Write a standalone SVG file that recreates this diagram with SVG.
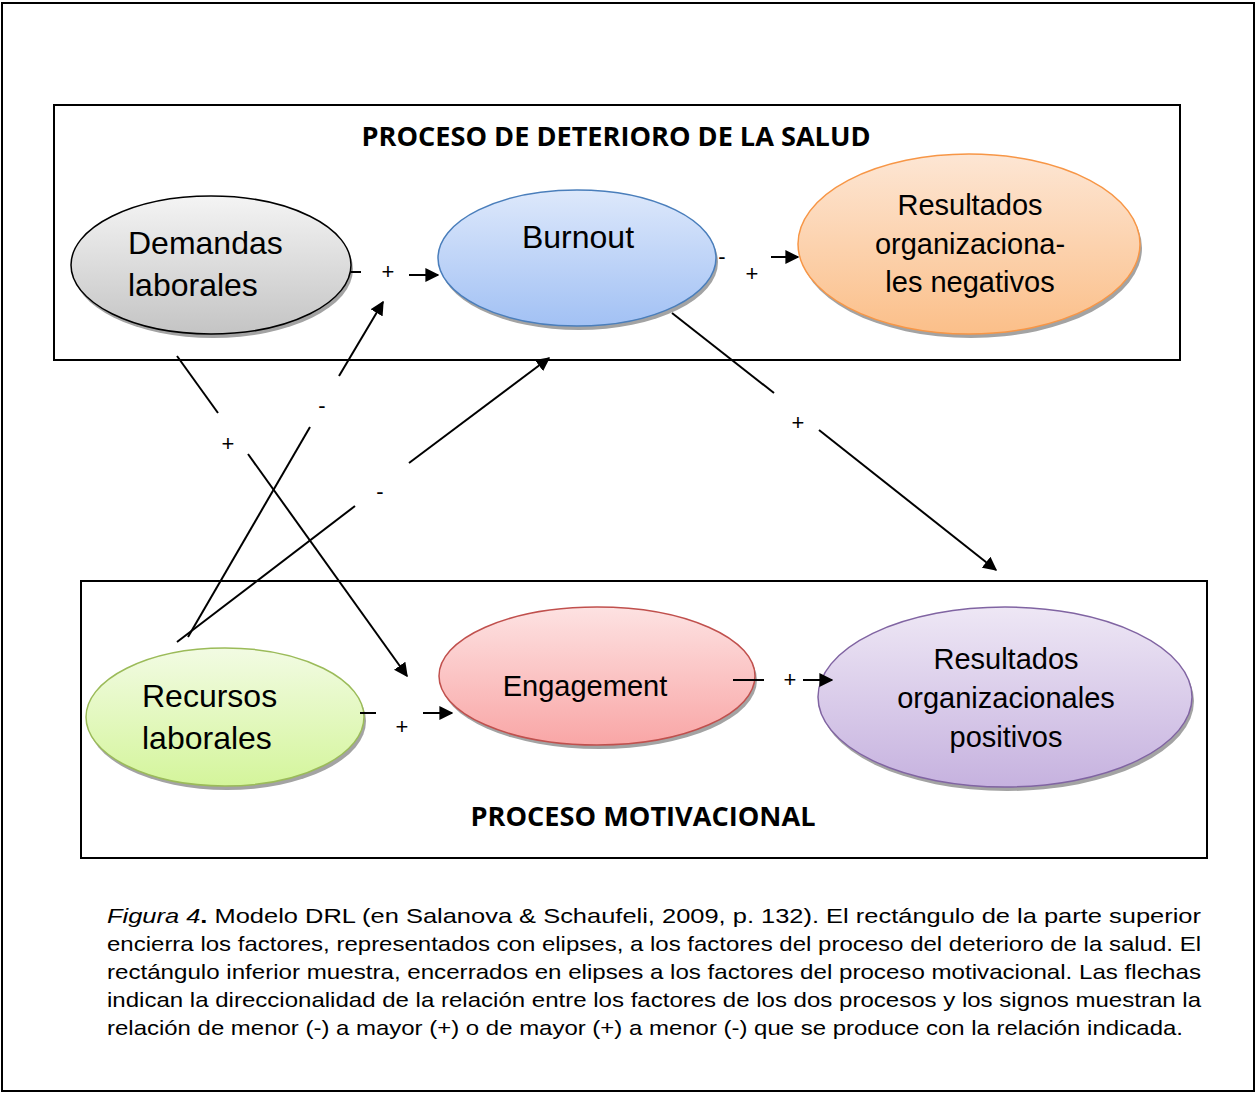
<svg xmlns="http://www.w3.org/2000/svg" width="1257" height="1093" viewBox="0 0 1257 1093">
<defs>
<style>
.frame{fill:none;stroke:#000;stroke-width:2}
.box{fill:none;stroke:#000;stroke-width:2}
.head{font-family:"Open Sans","Liberation Sans",sans-serif;font-weight:700;font-size:26px;fill:#000}
.lbl{font-family:"Liberation Sans",Arial,sans-serif;fill:#000}
.big{font-size:32px}
.mid{font-size:29px}
.sign{font-family:"Liberation Sans",Arial,sans-serif;font-size:22px;fill:#000;text-anchor:middle}
.shadow{fill:#a3a3a3}
.con{stroke:#000;stroke-width:2;fill:none}
.arr{marker-end:url(#ah)}
.cap{font-family:"Liberation Sans",Arial,sans-serif;font-size:21px;fill:#000}
</style>
<marker id="ah" viewBox="0 0 10 10" refX="9" refY="5" markerWidth="7" markerHeight="7" markerUnits="strokeWidth" orient="auto">
<path d="M0,0 L10,5 L0,10 Z" fill="#000"/>
</marker>
<linearGradient id="gGray" x1="0" y1="0" x2="0" y2="1"><stop offset="0" stop-color="#f4f4f4"/><stop offset="1" stop-color="#c4c4c4"/></linearGradient>
<linearGradient id="gBlue" x1="0" y1="0" x2="0" y2="1"><stop offset="0" stop-color="#dde8fb"/><stop offset="1" stop-color="#a2c1f4"/></linearGradient>
<linearGradient id="gOrange" x1="0" y1="0" x2="0" y2="1"><stop offset="0" stop-color="#fde6d4"/><stop offset="1" stop-color="#fbbf89"/></linearGradient>
<linearGradient id="gGreen" x1="0" y1="0" x2="0" y2="1"><stop offset="0" stop-color="#f2fbe3"/><stop offset="1" stop-color="#d4f59b"/></linearGradient>
<linearGradient id="gRed" x1="0" y1="0" x2="0" y2="1"><stop offset="0" stop-color="#fde2e2"/><stop offset="1" stop-color="#f9a6a6"/></linearGradient>
<linearGradient id="gPurple" x1="0" y1="0" x2="0" y2="1"><stop offset="0" stop-color="#eee7f5"/><stop offset="1" stop-color="#c6b2df"/></linearGradient>
</defs>
<rect x="0" y="0" width="1257" height="1093" fill="#fff"/>
<rect class="frame" x="2" y="3" width="1252" height="1088"/>

<g id="box-salud">
<rect class="box" x="54" y="105" width="1126" height="255"/>
<text class="head" x="616" y="146" text-anchor="middle" textLength="509" lengthAdjust="spacingAndGlyphs">PROCESO DE DETERIORO DE LA SALUD</text>
</g>
<g id="box-motivacional">
<rect class="box" x="81" y="581" width="1126" height="277"/>
<text class="head" x="643" y="826" text-anchor="middle" textLength="345" lengthAdjust="spacingAndGlyphs">PROCESO MOTIVACIONAL</text>
</g>

<g id="node-demandas">
<ellipse class="shadow" cx="213" cy="269" rx="140" ry="69"/>
<ellipse cx="211" cy="265" rx="140" ry="69" fill="url(#gGray)" stroke="#000" stroke-width="1.5"/>
<text class="lbl big" x="128" y="254">Demandas</text>
<text class="lbl big" x="128" y="296">laborales</text>
</g>
<g id="node-burnout">
<ellipse class="shadow" cx="579" cy="262" rx="139" ry="68"/>
<ellipse cx="577" cy="258" rx="139" ry="68" fill="url(#gBlue)" stroke="#4a7ebb" stroke-width="1.5"/>
<text class="lbl big" x="578" y="248" text-anchor="middle">Burnout</text>
</g>
<g id="node-negativos">
<ellipse class="shadow" cx="971" cy="248" rx="171" ry="90"/>
<ellipse cx="969" cy="244" rx="171" ry="90" fill="url(#gOrange)" stroke="#f79646" stroke-width="1.5"/>
<text class="lbl mid" x="970" y="215" text-anchor="middle">Resultados</text>
<text class="lbl mid" x="970" y="254" text-anchor="middle">organizaciona-</text>
<text class="lbl mid" x="970" y="292" text-anchor="middle">les negativos</text>
</g>
<g id="node-recursos">
<ellipse class="shadow" cx="227" cy="721" rx="139" ry="69"/>
<ellipse cx="225" cy="717" rx="139" ry="69" fill="url(#gGreen)" stroke="#9bbb59" stroke-width="1.5"/>
<text class="lbl big" x="142" y="707">Recursos</text>
<text class="lbl big" x="142" y="749">laborales</text>
</g>
<g id="node-engagement">
<ellipse class="shadow" cx="599" cy="680" rx="158" ry="69"/>
<ellipse cx="597" cy="676" rx="158" ry="69" fill="url(#gRed)" stroke="#c0504d" stroke-width="1.5"/>
<text class="lbl mid" x="585" y="696" text-anchor="middle">Engagement</text>
</g>
<g id="node-positivos">
<ellipse class="shadow" cx="1007" cy="701" rx="187" ry="90"/>
<ellipse cx="1005" cy="697" rx="187" ry="90" fill="url(#gPurple)" stroke="#8064a2" stroke-width="1.5"/>
<text class="lbl mid" x="1006" y="669" text-anchor="middle">Resultados</text>
<text class="lbl mid" x="1006" y="708" text-anchor="middle">organizacionales</text>
<text class="lbl mid" x="1006" y="747" text-anchor="middle">positivos</text>
</g>

<g id="connectors">
<!-- Demandas -> Burnout -->
<line class="con" x1="351" y1="272" x2="361" y2="272"/>
<text class="sign" x="388" y="279">+</text>
<line class="con arr" x1="409" y1="275" x2="438" y2="275"/>
<!-- Burnout -> Resultados negativos -->
<text class="sign" x="722" y="264">-</text>
<text class="sign" x="752" y="281">+</text>
<line class="con arr" x1="771" y1="257" x2="798" y2="257"/>
<!-- Demandas -> Engagement -->
<line class="con" x1="177" y1="356" x2="218" y2="413"/>
<text class="sign" x="228" y="451">+</text>
<line class="con arr" x1="248" y1="454" x2="407" y2="676"/>
<!-- Recursos -> Demandas-Burnout link -->
<line class="con" x1="188" y1="637" x2="310" y2="427"/>
<text class="sign" x="322" y="413">-</text>
<line class="con arr" x1="339" y1="376" x2="383" y2="302"/>
<!-- Recursos -> Burnout -->
<line class="con" x1="177" y1="642" x2="355" y2="506"/>
<text class="sign" x="380" y="499">-</text>
<line class="con arr" x1="409" y1="463" x2="549" y2="358"/>
<!-- Burnout -> Resultados positivos -->
<line class="con" x1="672" y1="313" x2="774" y2="393"/>
<text class="sign" x="798" y="430">+</text>
<line class="con arr" x1="819" y1="430" x2="996" y2="570"/>
<!-- Recursos -> Engagement -->
<line class="con" x1="360" y1="713" x2="376" y2="713"/>
<text class="sign" x="402" y="734">+</text>
<line class="con arr" x1="423" y1="713" x2="452" y2="713"/>
<!-- Engagement -> Resultados positivos -->
<line class="con" x1="733" y1="680" x2="764" y2="680"/>
<text class="sign" x="790" y="687">+</text>
<line class="con arr" x1="803" y1="680" x2="832" y2="680"/>
</g>

<g id="caption">
<text class="cap" x="107" y="923" textLength="1094" lengthAdjust="spacingAndGlyphs"><tspan font-style="italic">Figura 4</tspan><tspan font-weight="700">.</tspan> Modelo DRL  (en Salanova &amp; Schaufeli, 2009, p. 132). El rectángulo de la parte superior</text>
<text class="cap" x="107" y="951" textLength="1094" lengthAdjust="spacingAndGlyphs">encierra los factores, representados con elipses, a los factores del proceso del deterioro de la salud. El</text>
<text class="cap" x="107" y="979" textLength="1094" lengthAdjust="spacingAndGlyphs">rectángulo inferior muestra, encerrados en elipses  a los factores del proceso motivacional. Las flechas</text>
<text class="cap" x="107" y="1007" textLength="1094" lengthAdjust="spacingAndGlyphs">indican la direccionalidad de la relación entre los factores de los dos procesos y los signos muestran la</text>
<text class="cap" x="107" y="1035" textLength="1076" lengthAdjust="spacingAndGlyphs">relación de menor (-) a mayor (+) o de mayor (+) a menor (-) que se produce con la relación indicada.</text>
</g>
</svg>
